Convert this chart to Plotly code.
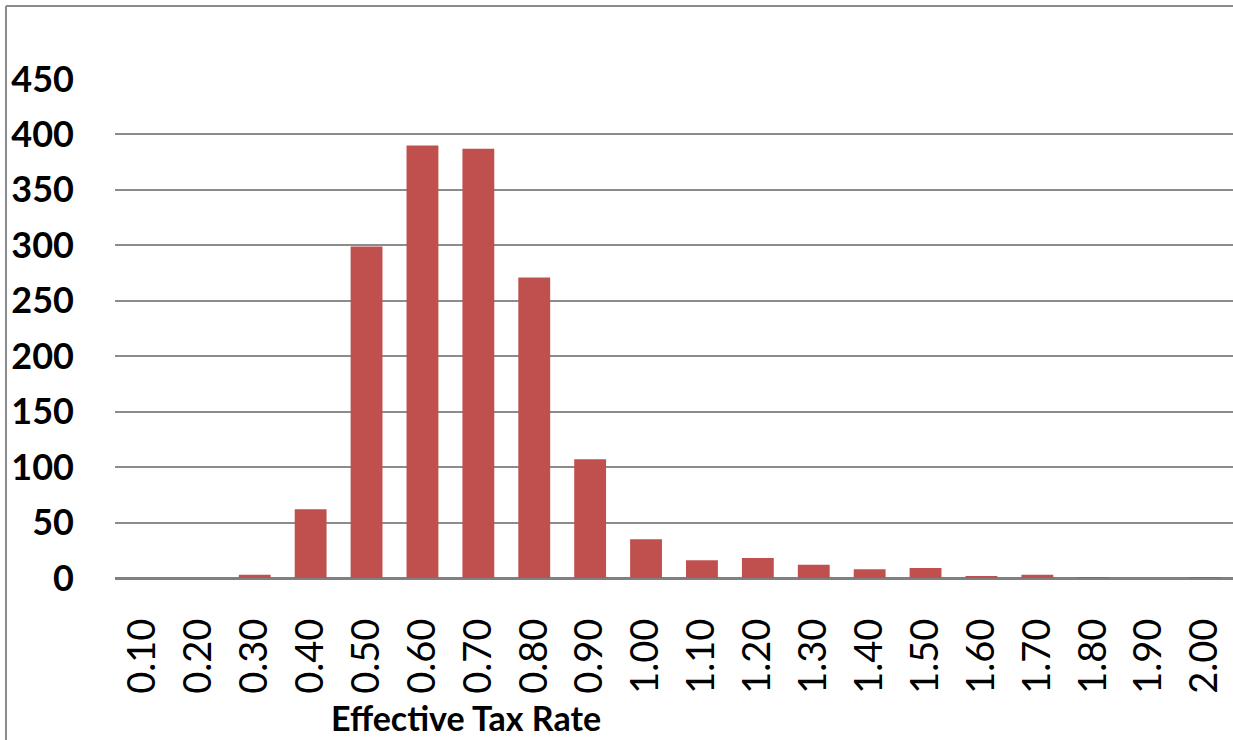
import plotly.graph_objects as go

categories = ["0.10", "0.20", "0.30", "0.40", "0.50", "0.60", "0.70", "0.80", "0.90", "1.00",
              "1.10", "1.20", "1.30", "1.40", "1.50", "1.60", "1.70", "1.80", "1.90", "2.00"]
counts = [0, 0, 3, 62, 299, 390, 387, 271, 107, 35,
          16, 18, 12, 8, 9, 1.5, 3, 0.5, 0, 0.5]
y_ticks = [0, 50, 100, 150, 200, 250, 300, 350, 400, 450]

W, H = 1233, 740
L, R, T, B = 115, 0, 79, 162
pw, ph = W - L - R, H - T - B

fig = go.Figure(go.Bar(x=categories, y=counts, marker=dict(color="#C0504D", line=dict(width=0))))

fig.update_layout(
    width=W, height=H,
    margin=dict(l=L, r=R, t=T, b=B, pad=0),
    paper_bgcolor="white", plot_bgcolor="white",
    bargap=0.43,
    showlegend=False,
    font=dict(family="Lato", color="black"),
)
fig.update_xaxes(
    type="category", tickangle=-90, tickfont=dict(size=38, family="Lato"),
    showgrid=False, showline=False, ticks="", ticklabelstandoff=32,
)
fig.update_yaxes(
    range=[0, 450], tickvals=y_ticks, tickfont=dict(size=36, family="Lato", weight="bold"),
    showgrid=True, gridcolor="#8C8C8C", gridwidth=2,
    zeroline=True, zerolinecolor="#808080", zerolinewidth=3,
    showline=False, ticks="", ticklabelstandoff=40,
)

def px_x(p):
    return (p - L) / pw

def px_y(p):
    return (H - B - p) / ph

fig.add_annotation(text="<b>Effective Tax Rate</b>", xref="paper", yref="paper",
                   x=px_x(466), y=px_y(717), xanchor="center", yanchor="middle", showarrow=False,
                   font=dict(size=34, family="Lato", color="black"))

# outer chart border (left and top)
fig.add_shape(type="line", xref="paper", yref="paper", x0=px_x(6), x1=px_x(6), y0=px_y(6), y1=px_y(745),
              line=dict(color="#8C8C8C", width=2))
fig.add_shape(type="line", xref="paper", yref="paper", x0=px_x(6), x1=px_x(1240), y0=px_y(6), y1=px_y(6),
              line=dict(color="#8C8C8C", width=2))

fig.write_html("out.html")
